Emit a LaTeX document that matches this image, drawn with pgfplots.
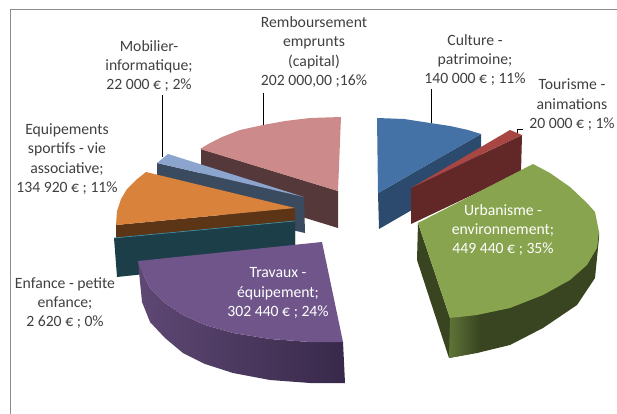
\documentclass[border=0pt]{standalone}
\usepackage{pgfplots}
\pgfplotsset{compat=1.18}
\usepackage{fontspec}
\setmainfont{Carlito}
\definecolor{txt}{HTML}{404040}
\definecolor{frame}{HTML}{8C8C8C}
\definecolor{roseT}{HTML}{CC8B8A}\definecolor{roseS}{HTML}{55393A}
\definecolor{blueT}{HTML}{4472A6}\definecolor{blueS}{HTML}{2B4A6D}
\definecolor{redT}{HTML}{A84644}\definecolor{redS}{HTML}{622828}
\definecolor{mobT}{HTML}{8CA5CF}\definecolor{mobS}{HTML}{3A4A5F}
\definecolor{oraT}{HTML}{D9823B}\definecolor{oraS}{HTML}{5C3517}
\definecolor{tealT}{HTML}{4198AF}\definecolor{tealS}{HTML}{1B3E49}
\definecolor{purT}{HTML}{70558B}\definecolor{purL}{HTML}{5E4874}\definecolor{purR}{HTML}{38294A}
\definecolor{greT}{HTML}{88A44E}\definecolor{greS}{HTML}{394520}\definecolor{greL}{HTML}{5F7437}
\tikzset{lab/.style={font=\fontsize{15.7}{19.4}\selectfont,align=center,anchor=center,text=txt,inner sep=0pt},
 wlab/.style={lab,text=white}}
\begin{document}
\begin{tikzpicture}
\path[use as bounding box] (0,0) rectangle (617pt,414pt);
\begin{axis}[at={(0,0)},anchor=south west,scale only axis,width=617pt,height=414pt,xmin=0,xmax=617,ymin=0,ymax=414,y dir=reverse,hide axis,clip=true,no markers,
 every axis plot/.append style={draw=none}]
% frame
\addplot[draw=frame,line width=1pt] coordinates {(617,9.5)(10,9.5)(10,414)};
% Remboursement
\addplot[fill=roseS] coordinates {(201,149)(338,191)(338,228)(201,186)} --cycle;
\addplot[fill=roseT] coordinates {(200,149)(210,143)(222,137)(240,130)(263,125)(285,121)(310,118)(341,117)(338,191)} --cycle;
% Culture
\addplot[fill=blueS] coordinates {(378,193)(481,134)(481,170)(379,229)} --cycle;
\addplot[fill=blueT] coordinates {(377,118)(404,119)(430,123)(450,126)(468,130)(481,134)(378,193)} --cycle;
% Tourisme
\addplot[fill=redS] coordinates {(411,188)(522,135)(521,172)(411,224)} --cycle;
\addplot[fill=redT] coordinates {(411,188)(510,130)(522,135)} --cycle;
% Mobilier
\addplot[fill=mobS] coordinates {(157,163)(304,197)(305,233)(157,199)} --cycle;
\addplot[fill=mobT] coordinates {(157,163)(168,154)(304,197)} --cycle;
% Equipements
\addplot[fill=oraS] coordinates {(116,225)(295,208)(295,245)(116,262)} --cycle;
\addplot[fill=oraT] coordinates {(146,172)(136,180)(127,189)(121,199)(117,211)(116,225)(295,208)} --cycle;
% Enfance
\addplot[fill=tealS] coordinates {(114,238)(295,221)(295,258)(117,277)} --cycle;
\addplot[draw=tealT,line width=0.6pt] coordinates {(114,238)(295,221)};
% Travaux
\addplot[left color=purL,right color=purR] coordinates {(138,261)(140,268)(150,288)(165,303)(183,315)(205,325)(233,333)(270,339)(310,342)(343,342)(345,383)(310,383)(270,380)(233,373)(205,364)(183,353)(165,338)(150,322)(142,302)(139,272)} --cycle;
\addplot[fill=purT] coordinates {(138,261)(322,242)(343,342)(310,342)(270,339)(233,333)(205,325)(183,315)(165,303)(150,288)(140,268)} --cycle;
% Urbanisme
\addplot[fill=greS] coordinates {(418,223)(417,260)(449,358)(477,353)(510,345)(543,328)(577,305)(595,278)(599,238)(599,232)(450,318)} --cycle;
\addplot[left color=greL,right color=greS] coordinates {(450,318)(480,314)(480,352)(449,358)} --cycle;
\addplot[fill=greT] coordinates {(418,223)(533,164)(550,173)(570,187)(587,203)(595,212)(599,232)(597,248)(587,265)(570,280)(543,295)(510,308)(477,315)(450,318)} --cycle;
% leaders
\addplot[draw=black,line width=0.7pt] coordinates {(162,95)(162,157)};
\addplot[draw=black,line width=0.7pt] coordinates {(263,93)(263,125)};
\addplot[draw=black,line width=0.7pt] coordinates {(431,89)(431,123)};
\addplot[draw=black,line width=0.7pt] coordinates {(523,129)(517,129)(517,133)};
% labels
\node[lab] at (axis cs:314,52) {Remboursement\\emprunts\\(capital)\\202 000,00 ;16\%};
\node[lab] at (axis cs:149,66) {Mobilier-\\informatique;\\22 000 € ; 2\%};
\node[lab] at (axis cs:67,159) {Equipements\\sportifs - vie\\associative;\\134 920 € ; 11\%};
\node[lab] at (axis cs:475,60) {Culture -\\patrimoine;\\140 000 € ; 11\%};
\node[lab] at (axis cs:572,105) {Tourisme -\\animations\\20 000 € ; 1\%};
\node[lab] at (axis cs:65,303) {Enfance - petite\\enfance;\\2 620 € ; 0\%};
\node[wlab] at (axis cs:503,230) {Urbanisme -\\environnement;\\449 440 € ; 35\%};
\node[wlab] at (axis cs:278,293) {Travaux -\\équipement;\\302 440 € ; 24\%};
\end{axis}
\end{tikzpicture}
\end{document}
